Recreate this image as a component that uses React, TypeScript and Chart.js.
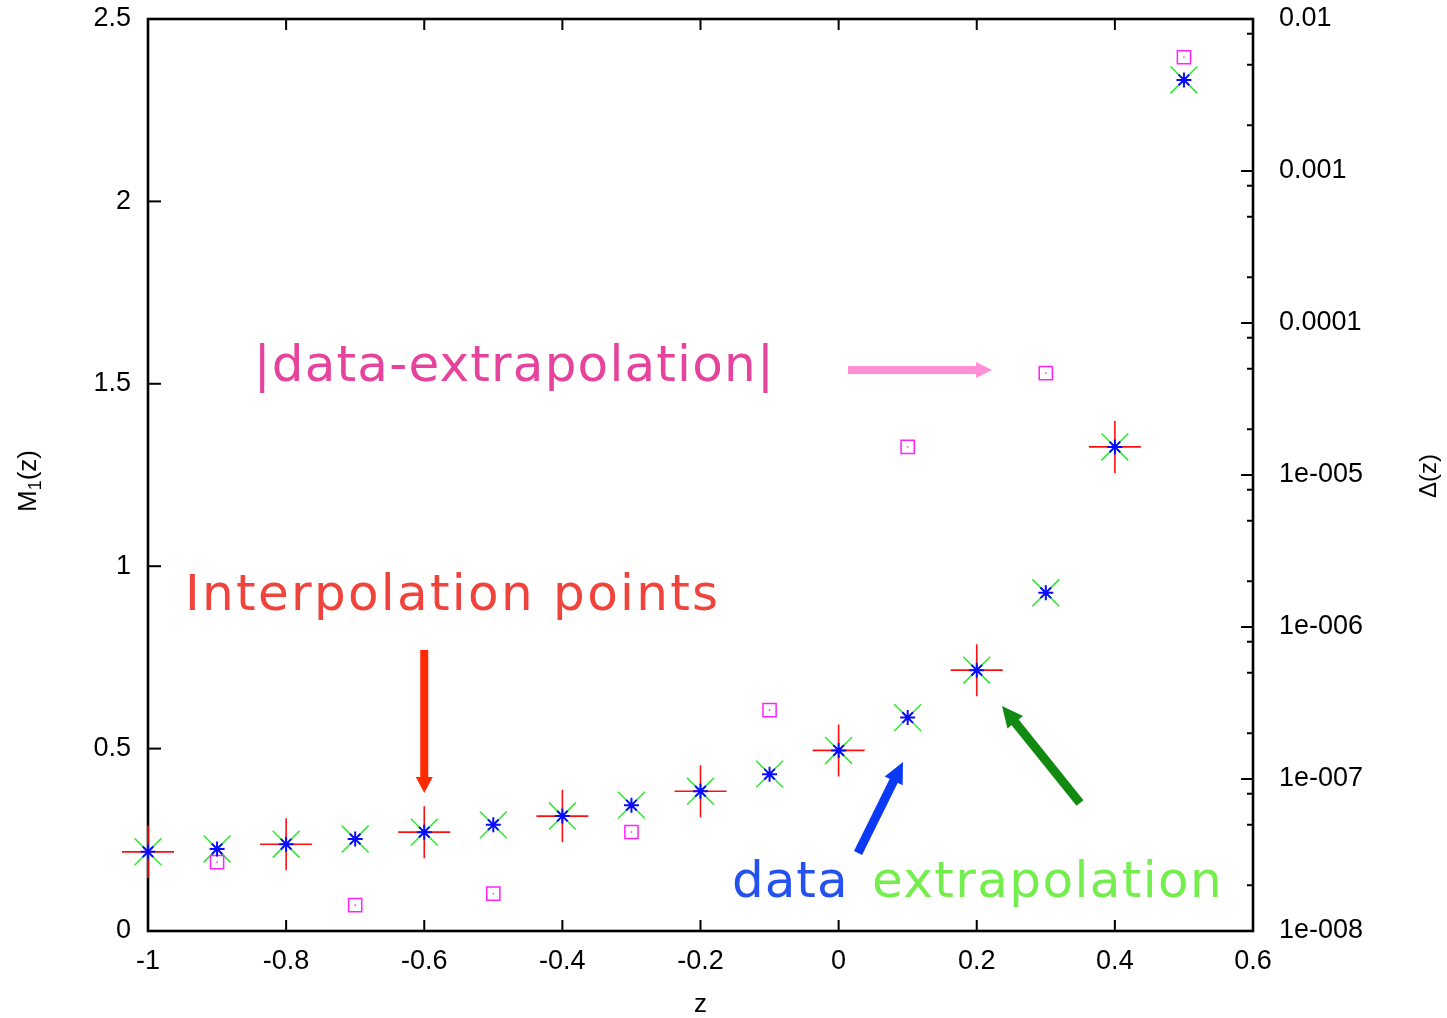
import React, { useEffect, useRef } from "react";
import { Chart, registerables } from "chart.js";

Chart.register(...registerables);

// ---- data ----
const zAll = [-1, -0.9, -0.8, -0.7, -0.6, -0.5, -0.4, -0.3, -0.2, -0.1, 0, 0.1, 0.2, 0.3, 0.4, 0.5];
const m1Data = [0.217, 0.225, 0.238, 0.252, 0.271, 0.291, 0.315, 0.345, 0.383, 0.43, 0.495, 0.585, 0.715, 0.927, 1.327, 2.333];
const m1Extrapolation = [0.217, 0.225, 0.238, 0.252, 0.271, 0.291, 0.315, 0.345, 0.383, 0.43, 0.495, 0.585, 0.715, 0.927, 1.327, 2.333];
const zInterp = [-1, -0.8, -0.6, -0.4, -0.2, 0, 0.2, 0.4];
const m1Interp = [0.217, 0.238, 0.271, 0.315, 0.383, 0.495, 0.715, 1.327];
const zDiff = [-0.9, -0.7, -0.5, -0.3, -0.1, 0.1, 0.3, 0.5];
const deltaDiff = [2.84e-8, 1.48e-8, 1.76e-8, 4.48e-8, 2.84e-7, 1.53e-5, 4.68e-5, 5.6e-3];

// ---- ticks ----
const xTickValues = [-1, -0.8, -0.6, -0.4, -0.2, 0, 0.2, 0.4, 0.6];
const xTickLabels = ["-1", "-0.8", "-0.6", "-0.4", "-0.2", "0", "0.2", "0.4", "0.6"];
const yTickValues = [0, 0.5, 1, 1.5, 2, 2.5];
const yTickLabels = ["0", "0.5", "1", "1.5", "2", "2.5"];
const y2TickValues = [1e-8, 1e-7, 1e-6, 1e-5, 1e-4, 1e-3, 1e-2];
const y2TickLabels = ["1e-008", "1e-007", "1e-006", "1e-005", "0.0001", "0.001", "0.01"];
const y2MinorFactors = [2, 5, 8];

// ---- annotations (data coordinates) ----
const textNotes = [
  { text: "|data-extrapolation|", z: -0.847, m: 1.508, color: "#e6449c", spacing: 1.2 },
  { text: "Interpolation points", z: -0.9464, m: 0.88, color: "#f0433b", spacing: 2.3 },
  { text: "data", z: -0.1544, m: 0.0932, color: "#2352ee", spacing: 1 },
  { text: "extrapolation", z: 0.0484, m: 0.0932, color: "#74ee4c", spacing: 1.4 },
];
const arrowNotes = [
  { z0: 0.0136, m0: 1.538, z1: 0.2221, m1: 1.538, color: "#ff8fd6", width: 8, head: 16, headW: 16 },
  { z0: -0.6, m0: 0.77, z1: -0.6, m1: 0.378, color: "#ff2a00", width: 8, head: 16, headW: 17 },
  { z0: 0.0281, m0: 0.2138, z1: 0.0932, m1: 0.4633, color: "#0a3af5", width: 9, head: 21, headW: 20 },
  { z0: 0.3495, m0: 0.3509, z1: 0.2366, m1: 0.6168, color: "#108a10", width: 9, head: 21, headW: 20 },
];

// plot frame (page pixels)
const PLOT_TOP = 19;
const PLOT_BOTTOM = 931;

const TICK_FONT = "'Liberation Sans', Arial, sans-serif";
const NOTE_FONT = "'DejaVu Sans', Verdana, sans-serif";

const layoutPlugin = {
  id: "fixedFrame",
  afterLayout(chart: any) {
    const ca = chart.chartArea;
    ca.top = PLOT_TOP;
    ca.bottom = PLOT_BOTTOM;
    ca.height = PLOT_BOTTOM - PLOT_TOP;
    ["y", "y2"].forEach((id) => {
      const s = chart.scales[id];
      s.top = PLOT_TOP;
      s.bottom = PLOT_BOTTOM;
      s.height = PLOT_BOTTOM - PLOT_TOP;
      s.configure();
    });
  },
};

const framePlugin = {
  id: "frameTicks",
  beforeDatasetsDraw(chart: any) {
    const { ctx, chartArea: a, scales } = chart;
    ctx.save();
    ctx.strokeStyle = "#000";
    ctx.lineWidth = 2;
    xTickValues.forEach((v) => {
      const x = scales.x.getPixelForValue(v);
      ctx.beginPath();
      ctx.moveTo(x, a.bottom);
      ctx.lineTo(x, a.bottom - 11);
      ctx.moveTo(x, a.top);
      ctx.lineTo(x, a.top + 11);
      ctx.stroke();
    });
    yTickValues.forEach((v) => {
      const y = scales.y.getPixelForValue(v);
      ctx.beginPath();
      ctx.moveTo(a.left, y);
      ctx.lineTo(a.left + 13, y);
      ctx.stroke();
    });
    y2TickValues.forEach((v, i) => {
      const y = scales.y2.getPixelForValue(v);
      ctx.beginPath();
      ctx.moveTo(a.right, y);
      ctx.lineTo(a.right - 12, y);
      ctx.stroke();
      if (i < y2TickValues.length - 1) {
        y2MinorFactors.forEach((f) => {
          const ym = scales.y2.getPixelForValue(v * f);
          ctx.beginPath();
          ctx.moveTo(a.right, ym);
          ctx.lineTo(a.right - 6, ym);
          ctx.stroke();
        });
      }
    });
    ctx.lineWidth = 2.6;
    ctx.strokeRect(a.left, a.top, a.right - a.left, a.bottom - a.top);
    ctx.restore();
  },
  afterDatasetsDraw(chart: any) {
    const { ctx, scales } = chart;
    ctx.save();
    arrowNotes.forEach((ar) => {
      const x0 = scales.x.getPixelForValue(ar.z0);
      const y0 = scales.y.getPixelForValue(ar.m0);
      const x1 = scales.x.getPixelForValue(ar.z1);
      const y1 = scales.y.getPixelForValue(ar.m1);
      const len = Math.hypot(x1 - x0, y1 - y0);
      const ux = (x1 - x0) / len;
      const uy = (y1 - y0) / len;
      const px = -uy;
      const py = ux;
      const bx = x1 - ux * ar.head;
      const by = y1 - uy * ar.head;
      ctx.strokeStyle = ar.color;
      ctx.fillStyle = ar.color;
      ctx.lineWidth = ar.width;
      ctx.lineCap = "butt";
      ctx.beginPath();
      ctx.moveTo(x0, y0);
      ctx.lineTo(bx + ux, by + uy);
      ctx.stroke();
      ctx.beginPath();
      ctx.moveTo(x1, y1);
      ctx.lineTo(bx + px * ar.headW / 2, by + py * ar.headW / 2);
      ctx.lineTo(bx - px * ar.headW / 2, by - py * ar.headW / 2);
      ctx.closePath();
      ctx.fill();
    });
    ctx.font = `50px ${NOTE_FONT}`;
    ctx.textBaseline = "alphabetic";
    ctx.textAlign = "left";
    textNotes.forEach((t) => {
      (ctx as any).letterSpacing = `${t.spacing}px`;
      ctx.fillStyle = t.color;
      ctx.fillText(t.text, scales.x.getPixelForValue(t.z), scales.y.getPixelForValue(t.m));
    });
    (ctx as any).letterSpacing = "0px";
    ctx.restore();
  },
  afterDraw(chart: any) {
    const { ctx, chartArea: a } = chart;
    ctx.save();
    ctx.fillStyle = "#000";
    ctx.font = `26px ${TICK_FONT}`;
    ctx.textAlign = "center";
    ctx.textBaseline = "alphabetic";
    ctx.fillText("z", (a.left + a.right) / 2, 1012);
    // left title M1(z) with subscript
    ctx.save();
    ctx.translate(36, 481);
    ctx.rotate(-Math.PI / 2);
    const big = `26px ${TICK_FONT}`;
    const small = `18px ${TICK_FONT}`;
    ctx.font = big;
    const wM = ctx.measureText("M").width;
    const wP = ctx.measureText("(z)").width;
    ctx.font = small;
    const w1 = ctx.measureText("1").width;
    let x = -(wM + w1 + wP) / 2;
    ctx.textAlign = "left";
    ctx.font = big;
    ctx.fillText("M", x, 0);
    x += wM;
    ctx.font = small;
    ctx.fillText("1", x, 5);
    x += w1;
    ctx.font = big;
    ctx.fillText("(z)", x, 0);
    ctx.restore();
    // right title
    ctx.save();
    ctx.translate(1436, 476);
    ctx.rotate(-Math.PI / 2);
    ctx.font = `24px ${TICK_FONT}`;
    ctx.textAlign = "center";
    ctx.fillText("Δ(z)", 0, 0);
    ctx.restore();
    ctx.restore();
  },
};

export default function App() {
  const ref = useRef<HTMLCanvasElement | null>(null);
  useEffect(() => {
    if (!ref.current) return;
    const tickFont = { family: TICK_FONT, size: 27 };
    const chart = new Chart(ref.current, {
      type: "scatter",
      data: {
        datasets: [
          {
            label: "extrapolation",
            data: zAll.map((z, i) => ({ x: z, y: m1Extrapolation[i] })),
            yAxisID: "y",
            pointStyle: "star",
            radius: 7.5,
            borderColor: "#0a0aff",
            backgroundColor: "#0a0aff",
            borderWidth: 2,
            order: 0,
            clip: false,
          } as any,
          {
            label: "diff-dot",
            data: zDiff.map((z, i) => ({ x: z, y: deltaDiff[i] })),
            yAxisID: "y2",
            pointStyle: "circle",
            radius: 0.8,
            borderWidth: 0,
            backgroundColor: "#ff00ff",
            borderColor: "#ff00ff",
            order: 1,
            clip: false,
          } as any,
          {
            label: "|data-extrapolation|",
            data: zDiff.map((z, i) => ({ x: z, y: deltaDiff[i] })),
            yAxisID: "y2",
            pointStyle: "rect",
            radius: 9.3,
            borderWidth: 1.5,
            borderColor: "#ff22ff",
            backgroundColor: "rgba(0,0,0,0)",
            order: 2,
            clip: false,
          } as any,
          {
            label: "data",
            data: zAll.map((z, i) => ({ x: z, y: m1Data[i] })),
            yAxisID: "y",
            pointStyle: "crossRot",
            radius: 19,
            borderWidth: 1.5,
            borderColor: "#2ee82e",
            backgroundColor: "#2ee82e",
            order: 3,
            clip: false,
          } as any,
          {
            label: "Interpolation points",
            data: zInterp.map((z, i) => ({ x: z, y: m1Interp[i] })),
            yAxisID: "y",
            pointStyle: "cross",
            radius: 26,
            borderWidth: 1.6,
            borderColor: "#ff1010",
            backgroundColor: "#ff1010",
            order: 4,
            clip: false,
          } as any,
        ],
      },
      options: {
        responsive: false,
        animation: false,
        events: [],
        layout: { padding: { top: 19, left: 0, right: 0, bottom: 0 } },
        plugins: { legend: { display: false }, tooltip: { enabled: false } },
        scales: {
          x: {
            type: "linear",
            position: "bottom",
            min: -1,
            max: 0.6,
            grid: { display: false, drawTicks: false },
            border: { display: false },
            afterBuildTicks: (s: any) => {
              s.ticks = xTickValues.map((v) => ({ value: v }));
            },
            afterFit: (s: any) => {
              s.height = 87;
            },
            ticks: {
              autoSkip: false,
              maxRotation: 0,
              padding: 14,
              color: "#000",
              font: tickFont,
              callback: (_v: any, i: number) => xTickLabels[i],
            },
          },
          y: {
            type: "linear",
            position: "left",
            min: 0,
            max: 2.5,
            grid: { display: false, drawTicks: false },
            border: { display: false },
            afterBuildTicks: (s: any) => {
              s.ticks = yTickValues.map((v) => ({ value: v }));
            },
            afterFit: (s: any) => {
              s.width = 148;
            },
            ticks: {
              autoSkip: false,
              padding: 17,
              color: "#000",
              font: tickFont,
              callback: (_v: any, i: number) => yTickLabels[i],
            },
          },
          y2: {
            type: "logarithmic",
            position: "right",
            min: 1e-8,
            max: 1e-2,
            grid: { display: false, drawTicks: false },
            border: { display: false },
            afterBuildTicks: (s: any) => {
              s.ticks = y2TickValues.map((v) => ({ value: v }));
            },
            afterFit: (s: any) => {
              s.width = 194;
            },
            ticks: {
              autoSkip: false,
              padding: 26,
              color: "#000",
              font: tickFont,
              callback: (_v: any, i: number) => y2TickLabels[i],
            },
          },
        },
      } as any,
      plugins: [layoutPlugin, framePlugin],
    });
    return () => chart.destroy();
  }, []);

  return (
    <div style={{ position: "fixed", left: 0, top: 0, width: 1447, height: 1018, background: "#fff" }}>
      <canvas ref={ref} width={1447} height={1018} style={{ display: "block" }} />
    </div>
  );
}
